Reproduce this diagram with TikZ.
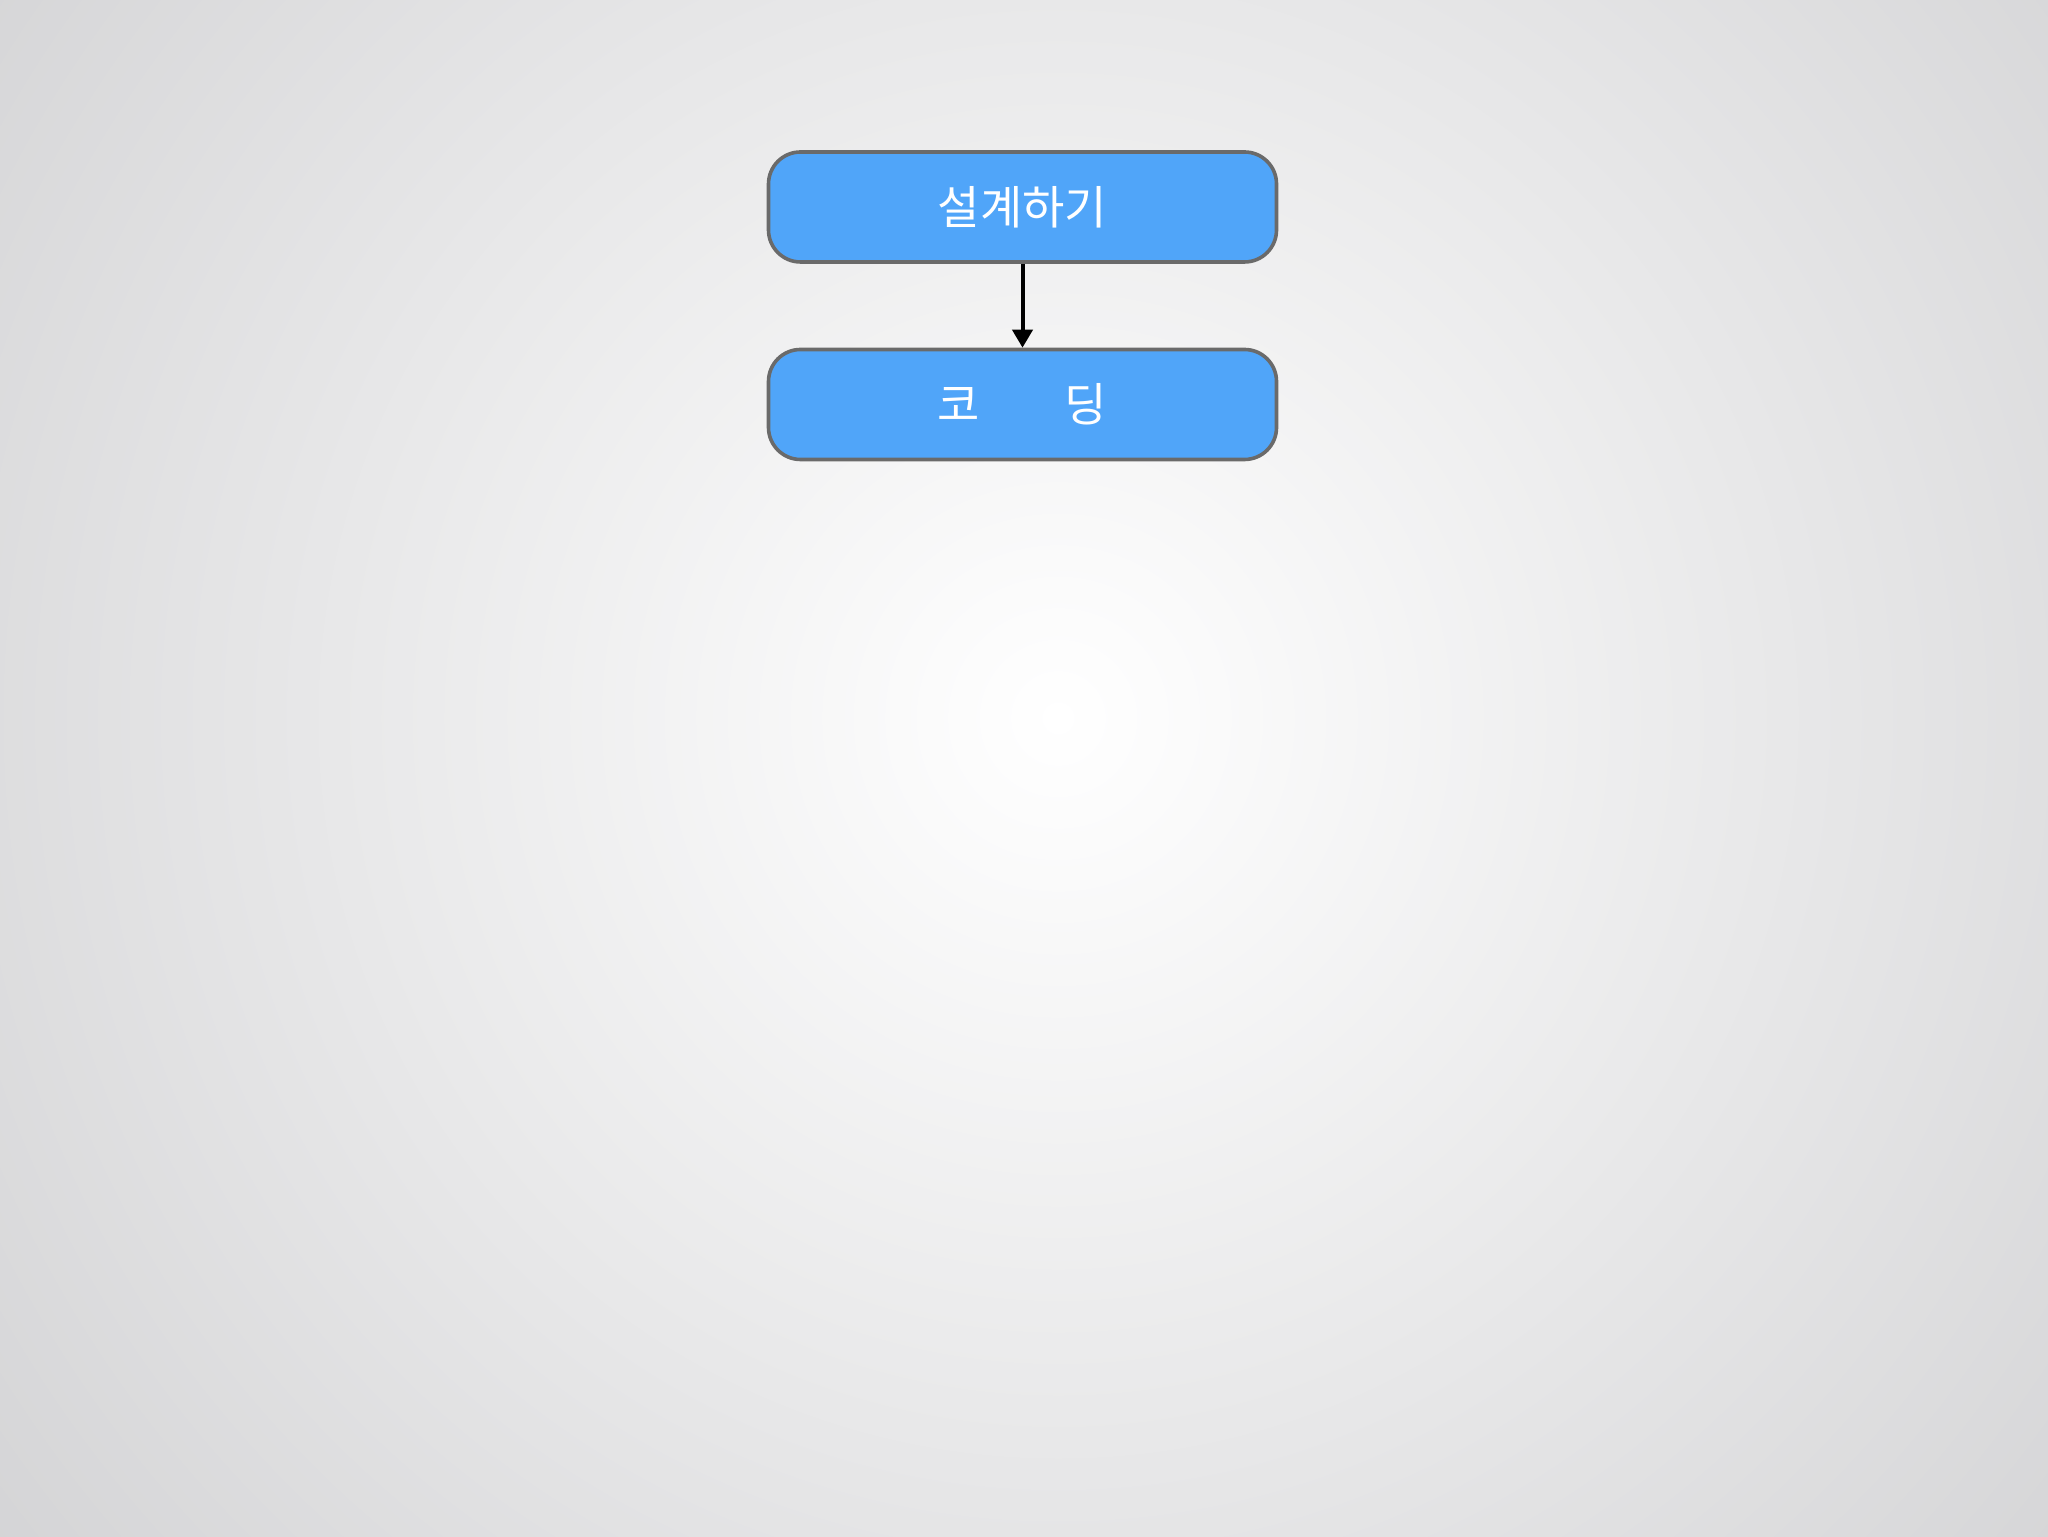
\documentclass[tikz,border=0pt]{standalone}
\usepackage{fontspec}
\setmainfont{Noto Sans CJK KR}
\usetikzlibrary{arrows.meta}
\definecolor{boxfill}{HTML}{50A5F9}
\definecolor{boxline}{HTML}{6A6A6A}
\definecolor{bgedge}{HTML}{D0D0D2}
\newlength\kwidth
\tikzset{
  stepbox/.style={draw=boxline, line width=1.8pt, fill=boxfill, rounded corners=16pt,
    minimum width=254pt, minimum height=55pt, inner sep=0pt,
    text=white, font=\fontsize{23}{27}\selectfont},
  flowarrow/.style={line width=2pt, -{Triangle[width=10pt,length=9pt]}}
}
\begin{document}
\begin{tikzpicture}[x=1pt,y=1pt]
\useasboundingbox (0,0) rectangle (1024,768);
\begin{scope}
\clip (0,0) rectangle (1024,768);
\shade[inner color=white, outer color=bgedge] (529,409) circle (740);
\end{scope}
\node[stepbox] (design) at (511.25,664.5) {설계하기};
\node[stepbox] (coding) at (511.25,565.75) {\settowidth{\kwidth}{설계하기}\makebox[\kwidth][s]{코\hfill 딩}};
\draw[flowarrow] (design) -- (coding);
\end{tikzpicture}
\end{document}
